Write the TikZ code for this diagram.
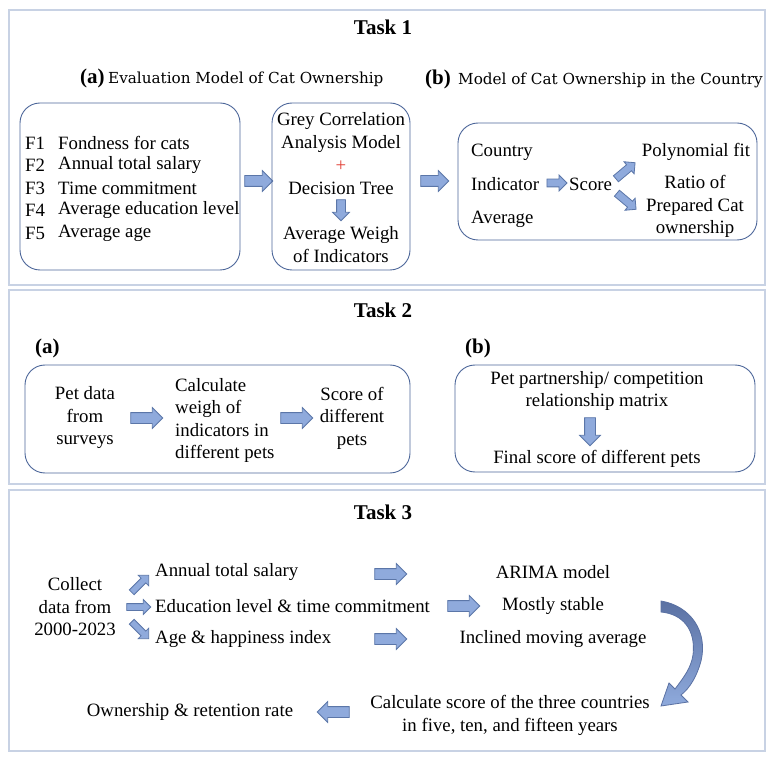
\documentclass[tikz,border=0pt]{standalone}
\usepackage{fontspec}
\setmainfont{Liberation Serif}
\newfontfamily\headfont{DejaVu Serif}
\usetikzlibrary{shapes.arrows}
\definecolor{panelline}{HTML}{C8D2E4}
\definecolor{boxline}{HTML}{4C6699}
\definecolor{arrowfill}{HTML}{8FAADC}
\definecolor{arrowline}{HTML}{5B76A8}
\definecolor{darkarrow}{HTML}{5A71A3}
\definecolor{plusred}{HTML}{E03C31}

\begin{document}
\begin{tikzpicture}[x=1pt,y=-1pt,
  every node/.style={inner sep=0pt, font=\fontsize{18.8}{22.5}\selectfont},
  panel/.style={draw=panelline, line width=1.2pt},
  rbox/.style={draw=boxline, line width=0.9pt, rounded corners=20pt},
  title/.style={font=\fontsize{21}{25}\selectfont\bfseries},
  lab/.style={font=\fontsize{21}{25}\selectfont\bfseries, anchor=west},
  head/.style={font=\headfont\fontsize{15.2}{18}\selectfont, anchor=west},
  blk/.style={single arrow, draw=arrowline, fill=arrowfill, line width=0.8pt,
    inner xsep=0pt, inner ysep=5pt, single arrow head extend=5pt, minimum height=28pt},
  sblk/.style={blk, inner ysep=3.5pt, single arrow head extend=4pt, minimum height=22pt}]
\useasboundingbox (0,0) rectangle (774,759);

%task 1
\draw[panel] (9,10) rectangle (765,285);
\node[title] (t1) at (383,27) {Task 1};
\node[lab] (la) at (80,78) {(a)};
\node[head] (ha) at (108,79) {Evaluation Model of Cat Ownership};
\node[lab] (lb) at (425,79) {(b)};
\node[head] (hb) at (458,80) {Model of Cat Ownership in the Country};

\node[rbox, minimum width=220pt, minimum height=167pt] (fbox) at (130,186.5) {};
\node[anchor=west] (f1) at (25,143) {F1};
\node[anchor=west] (f2) at (25,165) {F2};
\node[anchor=west] (f3) at (25,188) {F3};
\node[anchor=west] (f4) at (25,210) {F4};
\node[anchor=west] (f5) at (25,233) {F5};
\node[anchor=west] (n1) at (58,143) {Fondness for cats};
\node[anchor=west] (n2) at (58,165) {Annual total salary};
\node[anchor=west] (n3) at (58,188) {Time commitment};
\node[anchor=west] (n4) at (58,210) {Average education level};
\node[anchor=west] (n5) at (58,233) {Average age};

\node[blk] (a1) at (256,181) {};

\node[rbox, minimum width=138pt, minimum height=167pt] (gbox) at (341,186.5) {};
\node[align=center] (grey) at (341,132.5) {Grey Correlation\\Analysis Model};
\node[text=plusred] (plus) at (341,166) {+};
\node (tree) at (341,188) {Decision Tree};
\node[blk, rotate=-90, minimum height=21pt, inner ysep=4pt, single arrow head extend=4pt] (a2) at (341,208) {};
\node[align=center] (weigh) at (341,244.5) {Average Weigh\\of Indicators};

\node[blk] (a3) at (432,181) {};

\node[rbox, minimum width=299pt, minimum height=117pt] (bbox) at (607.5,181.5) {};
\node[anchor=west] (cty) at (471,152) {Country};
\node[anchor=west] (ind) at (471,184) {Indicator};
\node[anchor=west] (avg) at (471,219) {Average};
\node[sblk, minimum height=20pt] (a4) at (555,183) {};
\node[anchor=west] (score) at (569,184) {Score};
\node[sblk, rotate=40, minimum height=25pt] (a5) at (624,172) {};
\node[sblk, rotate=-40, minimum height=25pt] (a6) at (625,200) {};
\node (poly) at (696,152) {Polynomial fit};
\node[align=center] (ratio) at (695,206.5) {Ratio of\\Prepared Cat\\ownership};

%task 2
\draw[panel] (9,290) rectangle (765,484);
\node[title] (t2) at (383,310) {Task 2};
\node[lab] (la2) at (35,348) {(a)};
\node[lab] (lb2) at (465,348) {(b)};

\node[rbox, minimum width=385pt, minimum height=108pt] (pbox) at (217.5,419) {};
\node[align=center] (pet) at (85,418) {Pet data\\from\\surveys};
\node[blk, minimum height=32pt] (a7) at (144,418) {};
\node[align=left, anchor=west] (calc) at (175,420.5) {Calculate\\weigh of\\indicators in\\different pets};
\node[blk, minimum height=32pt] (a8) at (294,418) {};
\node[align=center] (sdp) at (352,418) {Score of\\different\\pets};

\node[rbox, minimum width=300pt, minimum height=107pt] (mbox) at (605,418.5) {};
\node[align=center] (mat) at (597,391) {Pet partnership/ competition\\relationship matrix};
\node[blk, rotate=-90] (a9) at (590,429) {};
\node (fin) at (597,459) {Final score of different pets};

%task 3
\draw[panel] (9,490) rectangle (765,751);
\node[title] (t3) at (383,512) {Task 3};
\node[align=center] (col) at (75,607) {Collect\\data from\\2000-2023};
\node[sblk, rotate=45, inner ysep=3pt, minimum height=24pt] (b1) at (139,585) {};
\node[sblk, inner ysep=3pt, minimum height=24pt] (b2) at (137,607) {};
\node[sblk, rotate=-45, inner ysep=3pt, minimum height=24pt] (b3) at (139,629) {};
\node[anchor=west] (sal) at (155,572) {Annual total salary};
\node[anchor=west] (edu) at (155,606) {Education level \& time commitment};
\node[anchor=west] (age) at (155,639) {Age \& happiness index};
\node[blk, minimum height=32pt] (b4) at (388,574) {};
\node[blk, minimum height=32pt] (b5) at (461,606) {};
\node[blk, minimum height=32pt] (b6) at (388,639) {};
\node (ari) at (553,572) {ARIMA model};
\node (sta) at (553,606) {Mostly stable};
\node (inc) at (553,639) {Inclined moving average};

\path[draw=darkarrow, line width=0.8pt, top color=darkarrow, bottom color=arrowfill]
  (661,601) .. controls (691,606) and (708,632) .. (701,661)
  .. controls (697,676) and (690,688) .. (681,695) -- (688,702) -- (661,706)
  -- (669,683) -- (675,689) .. controls (684,677) and (691,668) .. (693,655)
  .. controls (696,630) and (683,614) .. (661,612) -- cycle;

\node[align=center] (cal) at (510,715.5) {Calculate score of the three countries\\in five, ten, and fifteen years};
\node[blk, rotate=180, minimum height=32pt] (b7) at (336,712) {};
\node (own) at (190,712) {Ownership \& retention rate};
\end{tikzpicture}
\end{document}
